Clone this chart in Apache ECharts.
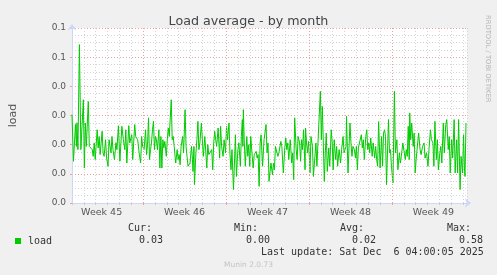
<!DOCTYPE html>
<html><head><meta charset="utf-8">
<script src="https://cdn.jsdelivr.net/npm/echarts@6/dist/echarts.min.js"></script>
<style>html,body{margin:0;padding:0;background:#f0f0f0}#c{width:497px;height:275px}</style>
</head><body><div id="c"></div>
<script>
// ---------- data (hours since left edge of the 33-day window, load) ----------
const chartTitle = 'Load average - by month';
const yAxisName = 'load';
const yTickLabels = ['0.0', '0.0', '0.0', '0.0', '0.0', '0.1', '0.1'];
const weekLabels = ['Week 45', 'Week 46', 'Week 47', 'Week 48', 'Week 49'];
const weekLabelHours = [60, 228, 396, 564, 732];
const weekStartHours = [144, 312, 480, 648];
const statNames = ['Cur:', 'Min:', 'Avg:', 'Max:'];
const statValues = ['0.03', '0.00', '0.02', '0.58'];
const seriesName = 'load';
const lastUpdate = 'Last update: Sat Dec  6 04:00:05 2025';
const footer = 'Munin 2.0.73';
const sideText = 'RRDTOOL / TOBI OETIKER';

const week45 = [[0,0.0303],[3,0.0143],[7,0.0269],[9,0.0194],[10,0.0275],[12,0.0183],[15,0.0543],[18,0.0183],[23,0.0354],[25,0.0120],
[27,0.0274],[29,0.0194],[33,0.0348],[35,0.0194],[38,0.0200],[41,0.0183],[43,0.0160],[45,0.0206],[47,0.0149],[51,0.0251],
[53,0.0189],[55,0.0228],[57,0.0166],[61,0.0246],[63,0.0172],[65,0.0160],[68,0.0217],[70,0.0155],[73,0.0126],[75,0.0217],
[79,0.0172],[81,0.0228],[83,0.0183],[86,0.0149],[89,0.0207],[91,0.0183],[94,0.0265],[97,0.0143],[101,0.0263],[104,0.0217],
[107,0.0183],[109,0.0251],[111,0.0137],[115,0.0265],[117,0.0206],[121,0.0234],[123,0.0149],[127,0.0269],[129,0.0228],
[133,0.0217],[136,0.0172],[139,0.0137],[141,0.0228],[143,0.0194]];
const week46 = [[146,0.0183],[149,0.0251],[151,0.0166],[153,0.0200],[155,0.0292],[157,0.0149],[159,0.0183],[161,0.0206],[163,0.0251],[165,0.0280],
[167,0.0183],[169,0.0228],[171,0.0217],[173,0.0183],[176,0.0251],[178,0.0120],[180,0.0228],[182,0.0120],[184,0.0217],[186,0.0189],
[188,0.0211],[191,0.0160],[193,0.0217],[195,0.0257],[197,0.0228],[201,0.0354],[203,0.0217],[205,0.0228],[207,0.0194],[210,0.0137],
[213,0.0183],[215,0.0149],[217,0.0166],[219,0.0131],[221,0.0194],[224,0.0228],[226,0.0172],[229,0.0320],[231,0.0194],[233,0.0160],
[235,0.0126],[237,0.0120],[239,0.0137],[242,0.0194],[244,0.0149],[245,0.0108],[247,0.0194],[248,0.0063],[251,0.0172],[253,0.0217],
[255,0.0280],[257,0.0183],[259,0.0206],[262,0.0274],[264,0.0217],[266,0.0160],[269,0.0228],[273,0.0120],[275,0.0200],[277,0.0166],
[280,0.0160],[283,0.0183],[285,0.0114],[287,0.0206],[289,0.0246],[291,0.0217],[293,0.0194],[296,0.0257],[299,0.0154],[301,0.0263],
[303,0.0194],[306,0.0160],[308,0.0217],[311,0.0172]];
const week47 = [[313,0.0263],[315,0.0217],[318,0.0274],[320,0.0166],[322,0.0114],[324,0.0183],[327,0.0046],[329,0.0137],[331,0.0234],[333,0.0091],
[336,0.0183],[338,0.0206],[341,0.0126],[343,0.0228],[345,0.0286],[346,0.0194],[347,0.0320],[349,0.0206],[351,0.0126],[354,0.0228],
[356,0.0160],[358,0.0200],[360,0.0126],[362,0.0228],[365,0.0160],[367,0.0120],[369,0.0166],[373,0.0177],[375,0.0154],[377,0.0166],
[379,0.0057],[381,0.0206],[383,0.0234],[386,0.0126],[389,0.0217],[393,0.0269],[395,0.0172],[397,0.0206],[399,0.0074],[403,0.0137],
[405,0.0143],[406,0.0097],[408,0.0137],[410,0.0114],[412,0.0194],[414,0.0189],[417,0.0160],[419,0.0172],[423,0.0211],[425,0.0194],
[428,0.0103],[431,0.0189],[433,0.0223],[435,0.0183],[437,0.0206],[439,0.0149],[442,0.0217],[445,0.0137],[447,0.0172],[449,0.0080],
[451,0.0292],[454,0.0183],[456,0.0149],[458,0.0228],[461,0.0206],[463,0.0143],[465,0.0217],[467,0.0183],[469,0.0251],[472,0.0114],
[473,0.0257],[475,0.0206],[477,0.0172],[479,0.0211]];
const week48 = [[481,0.0149],[482,0.0103],[484,0.0228],[487,0.0194],[489,0.0091],[491,0.0137],[494,0.0206],[496,0.0126],[498,0.0200],[503,0.0383],
[505,0.0217],[507,0.0331],[511,0.0074],[513,0.0172],[515,0.0240],[517,0.0108],[520,0.0189],[522,0.0126],[525,0.0251],[527,0.0206],
[529,0.0114],[531,0.0217],[534,0.0149],[536,0.0194],[538,0.0126],[541,0.0183],[544,0.0137],[546,0.0183],[549,0.0228],[551,0.0172],
[553,0.0183],[555,0.0194],[556,0.0297],[559,0.0103],[563,0.0274],[565,0.0206],[567,0.0160],[569,0.0194],[572,0.0183],[574,0.0154],
[576,0.0194],[578,0.0114],[580,0.0189],[583,0.0183],[586,0.0234],[588,0.0189],[590,0.0217],[592,0.0149],[595,0.0228],[597,0.0251],
[599,0.0183],[601,0.0206],[603,0.0172],[605,0.0223],[608,0.0160],[610,0.0206],[613,0.0154],[615,0.0194],[617,0.0149],[619,0.0126],
[621,0.0279],[624,0.0120],[627,0.0228],[629,0.0126],[631,0.0240],[633,0.0251],[635,0.0228],[637,0.0063],[641,0.0286],[643,0.0172],
[645,0.0183],[647,0.0126]];
const week49 = [[650,0.0069],[653,0.0383],[655,0.0172],[658,0.0217],[660,0.0114],[663,0.0172],[665,0.0137],[667,0.0160],[670,0.0206],[675,0.0149],
[677,0.0183],[679,0.0160],[681,0.0263],[683,0.0149],[684,0.0309],[686,0.0217],[688,0.0274],[691,0.0194],[693,0.0240],[695,0.0103],
[697,0.0149],[699,0.0149],[702,0.0240],[705,0.0183],[707,0.0166],[710,0.0194],[713,0.0206],[715,0.0154],[718,0.0172],[721,0.0126],
[723,0.0183],[726,0.0251],[728,0.0217],[731,0.0206],[733,0.0126],[735,0.0280],[738,0.0149],[740,0.0217],[742,0.0114],[745,0.0172],
[747,0.0194],[749,0.0137],[752,0.0274],[754,0.0172],[757,0.0269],[759,0.0286],[762,0.0183],[764,0.0228],[766,0.0103],[769,0.0217],
[771,0.0154],[774,0.0286],[776,0.0103],[779,0.0217],[781,0.0103],[783,0.0286],[786,0.0046],[788,0.0160],[791,0.0103],[793,0.0234],
[795,0.0108],[796,0.0091],[798,0.0274]];

// ---------- chart ----------
const loadData = [].concat(week45, week46, week47, week48, week49);
const MONO = '"DejaVu Sans Mono", monospace';
const SANS = '"DejaVu Sans", sans-serif';
const TXT = '#555';
const MGRID = '#e8a0a0';
const GRID = '#d4d4d4';
const AXIS = '#cfd6f8';

const chart = echarts.init(document.getElementById('c'), null, {renderer: 'canvas'});

const statX = [128, 234, 340, 447];
const valX = [139, 246, 352, 459];
const graphics = [];
statNames.forEach((s, i) => graphics.push({type: 'text', left: statX[i], top: 223, style: {text: s, font: '10px ' + MONO, fill: '#333'}}));
statValues.forEach((s, i) => graphics.push({type: 'text', left: valX[i], top: 235, style: {text: s, font: '10px ' + MONO, fill: '#333'}}));
graphics.push({type: 'text', left: 261, top: 247, style: {text: lastUpdate, font: '10px ' + MONO, fill: '#333'}});
graphics.push({type: 'text', left: 'center', top: 261, style: {text: footer, font: '7.5px ' + SANS, fill: '#c4c4c4'}});
graphics.push({type: 'text', x: 488, y: 15, rotation: -Math.PI / 2, style: {text: sideText, font: '6.8px ' + SANS, fill: '#b4b4b4', align: 'left', verticalAlign: 'middle'}});

chart.setOption({
  animation: false,
  backgroundColor: '#f0f0f0',
  title: {text: chartTitle, left: 'center', top: 10, textStyle: {fontFamily: SANS, fontSize: 12.7, fontWeight: 'normal', color: '#444'}},
  legend: {
    data: [seriesName], left: 10, top: 231, icon: 'rect', itemWidth: 6, itemHeight: 6,
    textStyle: {fontFamily: MONO, fontSize: 10, color: '#333', padding: [0, 0, 0, 2]}
  },
  grid: {left: 67, right: 30, top: 28, bottom: 72, show: true, backgroundColor: '#ffffff', borderWidth: 0},
  xAxis: [{
    type: 'value', min: 0, max: 800, interval: 24,
    axisLine: {show: true, lineStyle: {color: AXIS, width: 1}, symbol: ['none', 'arrow'], symbolSize: [7, 6], symbolOffset: [0, 4]},
    axisTick: {show: true, length: 2, lineStyle: {color: '#cccccc'}},
    axisLabel: {show: false},
    splitLine: {show: true, lineStyle: {color: GRID, type: [1, 2], width: 1}}
  }, {
    type: 'value', min: 0, max: 800, position: 'bottom',
    axisLine: {show: false},
    axisTick: {show: true, length: 2, customValues: weekStartHours, lineStyle: {color: MGRID}},
    axisLabel: {show: true, customValues: weekLabelHours, margin: 5, fontFamily: SANS, fontSize: 9.5, color: TXT,
      formatter: v => weekLabels[weekLabelHours.indexOf(Math.round(v))] || ''},
    splitLine: {show: false}
  }],
  yAxis: {
    type: 'value', min: 0, max: 0.06, interval: 0.01,
    name: yAxisName, nameLocation: 'middle', nameGap: 53, nameRotate: 90,
    nameTextStyle: {fontFamily: SANS, fontSize: 11, color: TXT},
    axisLine: {show: true, lineStyle: {color: AXIS, width: 1}, symbol: ['none', 'arrow'], symbolSize: [7, 6], symbolOffset: [0, 4]},
    axisTick: {show: true, length: 2, lineStyle: {color: MGRID}},
    minorTick: {show: false, splitNumber: 4},
    axisLabel: {margin: 6, fontFamily: SANS, fontSize: 9, color: TXT,
      formatter: v => yTickLabels[Math.round(v / 0.01)]},
    splitLine: {show: true, lineStyle: {color: MGRID, type: [1, 2], width: 1}},
    minorSplitLine: {show: true, lineStyle: {color: GRID, type: [1, 2], width: 1}}
  },
  series: [{
    type: 'line', name: '_grid', data: [], silent: true, z: 1,
    markLine: {silent: true, symbol: 'none', label: {show: false},
      lineStyle: {color: MGRID, type: [1, 2], width: 1},
      data: weekStartHours.map(h => ({xAxis: h}))}
  }, {
    type: 'line', name: seriesName, data: loadData, showSymbol: false, z: 3,
    itemStyle: {color: '#00cc00'},
    lineStyle: {color: '#00cc00', width: 1}
  }],
  graphic: graphics
});
</script></body></html>
